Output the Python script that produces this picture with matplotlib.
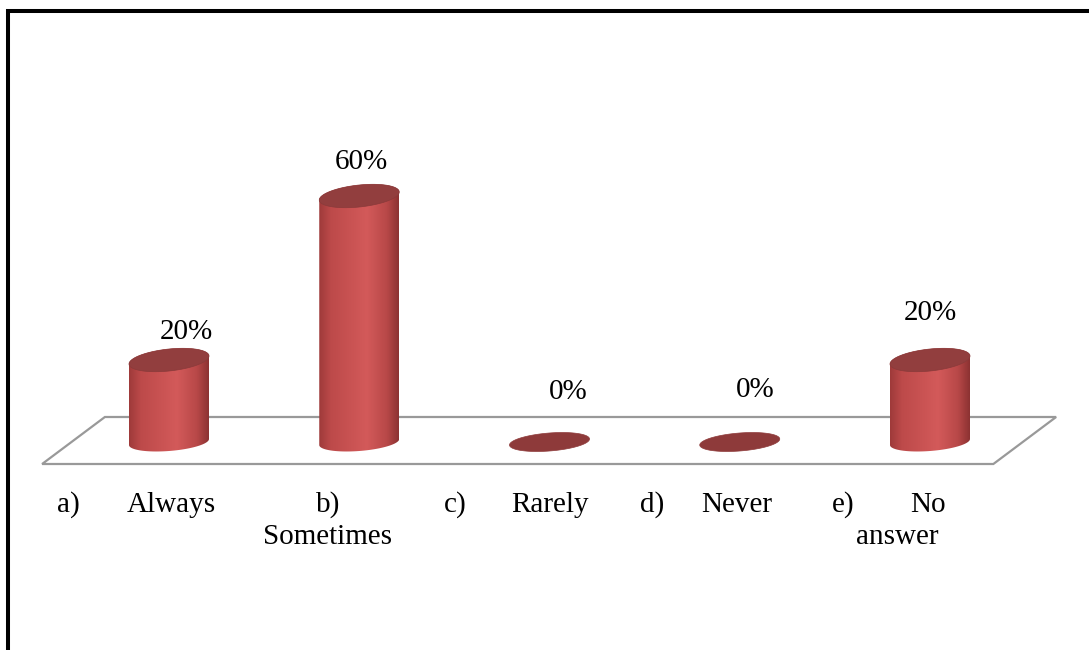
import numpy as np
import matplotlib.pyplot as plt
from matplotlib.colors import LinearSegmentedColormap
from matplotlib.patches import Polygon
from matplotlib.lines import Line2D

plt.rcParams['font.family'] = ['Liberation Serif', 'DejaVu Serif']

# data
prefixes = ["a)", "b)", "c)", "d)", "e)"]
names = ["Always", "Sometimes", "Rarely", "Never", "No answer"]
values = [20, 60, 0, 0, 20]
value_labels = ["20%", "60%", "0%", "0%", "20%"]

# label placement (x offset in category units, y offset above value in %)
label_dx = [0.09, 0.01, 0.10, 0.08, 0.0]
label_dy = [5.1, 6.6, 10.5, 11.0, 9.8]

# scale: one category = 190.25 px, 1% = 4.1 px
px_x = 190.25
px_y = 4.1

fig = plt.figure(figsize=(10.89, 6.5), dpi=100)
ax = fig.add_axes([0, 0, 1, 1])
ax.axis('off')
ax.set_xlim(-169 / px_x, (1089 - 169) / px_x)
ax.set_ylim(-208 / px_y, 442 / px_y)
ax.set_autoscale_on(False)

n = len(values)

# floor
floor_back = 25 / px_y
floor_front = -22 / px_y
shift = 0.33
floor = Polygon([(-0.667, floor_front), (n - 1 + 0.333, floor_front),
                 (n - 1 + 0.333 + shift, floor_back), (-0.667 + shift, floor_back)],
                closed=True, facecolor='white', edgecolor='#999999', lw=1.6, zorder=1)
ax.add_patch(floor)

body_cmap = LinearSegmentedColormap.from_list(
    'body', [(0.0, '#9e3a3a'), (0.15, '#bd4a4a'), (0.6, '#d35a5a'),
             (0.85, '#b84848'), (1.0, '#8c3232')])

a = 40 / px_x
b_base = 9 / px_y
b_top = 11 / px_y
sh_base = (6 / px_y) / (2 * a)
sh_top = (8 / px_y) / (2 * a)
t = np.linspace(0, 2 * np.pi, 200)


def ellipse(cx, cy, t, b, sh):
    ex = cx + a * np.cos(t)
    ey = cy + b * np.sin(t) + sh * a * np.cos(t)
    return np.column_stack([ex, ey])


grad = np.linspace(0, 1, 256).reshape(1, -1)

for i, v in enumerate(values):
    cx = i
    if v > 0:
        lower = ellipse(cx, 0, np.linspace(np.pi, 2 * np.pi, 100), b_base, sh_base)
        upper = ellipse(cx, v, np.linspace(0, np.pi, 100), b_top, sh_top)
        body = Polygon(np.vstack([lower, upper]), closed=True,
                       facecolor='none', edgecolor='none', zorder=3)
        ax.add_patch(body)
        im = ax.imshow(grad, cmap=body_cmap, aspect='auto',
                       extent=[cx - a, cx + a, -b_base - 2, v + b_top + 2],
                       zorder=3, interpolation='bilinear')
        im.set_clip_path(body)
        top = Polygon(ellipse(cx, v, t, b_top, sh_top), closed=True,
                      facecolor='#923e3e', edgecolor='#8a3a3a', lw=0.5, zorder=4)
        ax.add_patch(top)
    else:
        flat = Polygon(ellipse(cx, 0, t, b_base, sh_base), closed=True,
                       facecolor='#8e3a3a', edgecolor='#8e3a3a', lw=0.5, zorder=4)
        ax.add_patch(flat)

    ax.text(cx + label_dx[i], v + label_dy[i], value_labels[i],
            ha='center', va='baseline', fontsize=21, color='black')

# category labels
line1 = -70 / px_y
line2 = -102 / px_y
fs = 21
ax.text(0 - 0.531, line1, prefixes[0], ha='center', va='baseline', fontsize=fs)
ax.text(0 + 0.01, line1, names[0], ha='center', va='baseline', fontsize=fs)
ax.text(1 - 0.163, line1, prefixes[1], ha='center', va='baseline', fontsize=fs)
ax.text(1 - 0.168, line2, names[1], ha='center', va='baseline', fontsize=fs)
ax.text(2 - 0.494, line1, prefixes[2], ha='center', va='baseline', fontsize=fs)
ax.text(2 + 0.0, line1, names[2], ha='center', va='baseline', fontsize=fs)
ax.text(3 - 0.46, line1, prefixes[3], ha='center', va='baseline', fontsize=fs)
ax.text(3 - 0.016, line1, names[3], ha='center', va='baseline', fontsize=fs)
e_first, e_second = names[4].split(" ")
ax.text(4 - 0.457, line1, prefixes[4], ha='center', va='baseline', fontsize=fs)
ax.text(4 - 0.01, line1, e_first, ha='center', va='baseline', fontsize=fs)
ax.text(4 - 0.173, line2, e_second, ha='center', va='baseline', fontsize=fs)

# frame lines (left and top)
fig.add_artist(Line2D([8 / 1089, 8 / 1089], [0, 1 - 8.5 / 650],
                      transform=fig.transFigure, color='black', lw=2.9,
                      solid_capstyle='butt'))
fig.add_artist(Line2D([6 / 1089, 1], [1 - 10.5 / 650, 1 - 10.5 / 650],
                      transform=fig.transFigure, color='black', lw=2.9,
                      solid_capstyle='butt'))

fig.savefig('out.png', dpi=100)
